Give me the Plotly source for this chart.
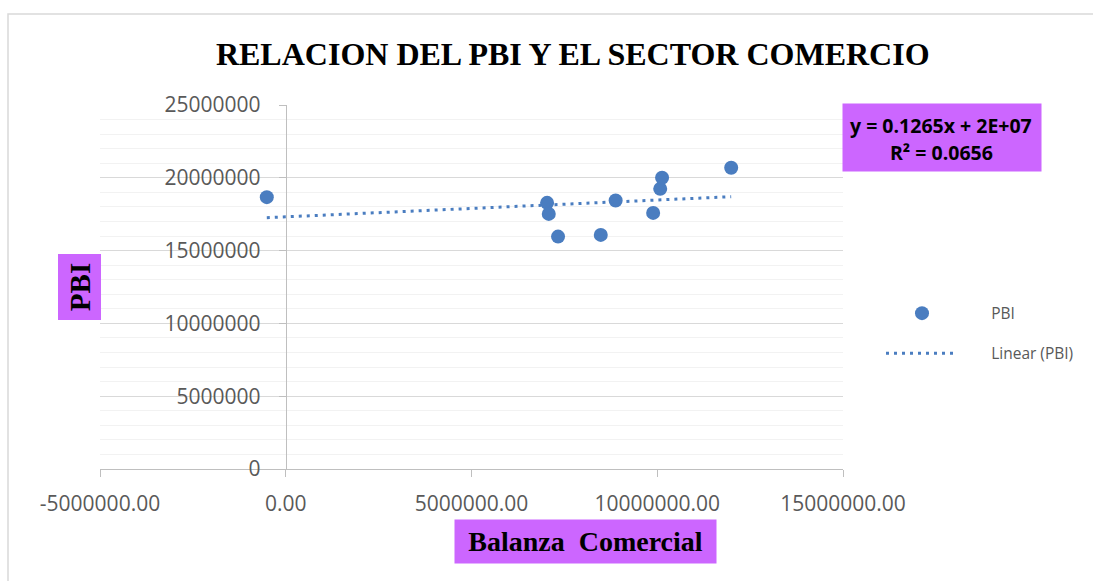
import numpy as np
import plotly.graph_objects as go

# ---- data ----
balanza = [-510000, 7035000, 7080000, 7330000, 8480000, 8880000, 9890000, 10080000, 10130000, 11990000]
pbi = [18670000, 18280000, 17520000, 15960000, 16080000, 18440000, 17590000, 19240000, 20000000, 20690000]

x_ticks = [-5000000, 0, 5000000, 10000000, 15000000]
x_tick_labels = ["-5000000.00", "0.00", "5000000.00", "10000000.00", "15000000.00"]
y_ticks = [0, 5000000, 10000000, 15000000, 20000000, 25000000]
y_tick_labels = ["0", "5000000", "10000000", "15000000", "20000000", "25000000"]

title_text = "RELACION DEL PBI Y EL SECTOR COMERCIO"
x_title = "Balanza  Comercial"
y_title = "PBI"
eq_line1 = "y = 0.1265x + 2E+07"
eq_line2 = "R² = 0.0656"
series_name = "PBI"
trend_name = "Linear (PBI)"

# ---- trendline computed from the data ----
slope, intercept = np.polyfit(balanza, pbi, 1)
trend_x = [min(balanza), max(balanza)]
trend_y = [slope * v + intercept for v in trend_x]

blue = "#4A7DC0"
grey_txt = "#595959"
purple = "#CC66FF"
tick_font = dict(family="Open Sans", size=21, color=grey_txt)
pad = "\u00a0" * 7

fig = go.Figure()
fig.add_trace(go.Scatter(
    x=balanza, y=pbi, mode="markers", name=pad + series_name, legendgroup="a",
    marker=dict(size=14, color=blue),
))
fig.add_trace(go.Scatter(
    x=trend_x, y=trend_y, mode="lines", name=pad + trend_name, legendgroup="b",
    line=dict(color=blue, width=3, dash="3px,5px"),
))

# plot area: left 100px, right 843px, top 105px, bottom 469px
fig.update_layout(
    width=1093, height=581,
    margin=dict(l=100, r=250, t=105, b=112, autoexpand=False),
    paper_bgcolor="white", plot_bgcolor="white",
    title=dict(text=title_text, x=0.524, xref="container", y=0.907, yref="container",
               xanchor="center", yanchor="middle",
               font=dict(family="Liberation Serif", size=32, color="black", weight="bold")),
    xaxis=dict(range=[-5000000, 15000000], tickvals=x_ticks, ticktext=x_tick_labels,
               showgrid=False, zeroline=False, showline=True, linecolor="#BFBFBF", linewidth=1,
               ticks="outside", ticklen=7, tickcolor="#BFBFBF", tickfont=tick_font,
               ticklabelstandoff=9),
    yaxis=dict(range=[0, 25000000], tickvals=y_ticks, ticktext=y_tick_labels,
               anchor="free", position=(0 - (-5000000)) / 20000000,
               showgrid=True, gridcolor="#D9D9D9", gridwidth=1, zeroline=False,
               showline=True, linecolor="#BFBFBF", linewidth=1,
               ticks="outside", ticklen=7, tickcolor="#BFBFBF", tickfont=tick_font,
               ticklabelstandoff=14,
               minor=dict(dtick=1000000, showgrid=True, gridcolor="#F2F2F2", gridwidth=1)),
    legend=dict(x=(881 - 100) / 743, xanchor="left", y=0.372, yanchor="middle",
                font=dict(family="Open Sans", size=15.5, color=grey_txt),
                tracegroupgap=17, itemwidth=72, bgcolor="rgba(0,0,0,0)"),
    showlegend=True,
)

# equation box (purple background) with its two lines of text
fig.add_annotation(
    text=" ", xref="paper", yref="paper", x=(942 - 100) / 743, y=(469 - 137.5) / 364,
    xanchor="center", yanchor="middle",
    showarrow=False, bgcolor=purple, width=198, height=67, borderpad=0,
)
eq_font = dict(family="Open Sans", size=19.5, color="black", weight="bold")
fig.add_annotation(
    text=eq_line1, xref="paper", yref="paper", x=(941 - 100) / 743, y=(469 - 125) / 364,
    xanchor="center", yanchor="middle", showarrow=False, font=eq_font,
)
fig.add_annotation(
    text=eq_line2, xref="paper", yref="paper", x=(942 - 100) / 743, y=(469 - 152) / 364,
    xanchor="center", yanchor="middle", showarrow=False, font=eq_font,
)
fig.add_annotation(
    text=x_title, xref="paper", yref="paper", x=(585.5 - 100) / 743, y=(469 - 541.5) / 364,
    xanchor="center", yanchor="middle",
    showarrow=False, bgcolor=purple, width=261, height=43, borderpad=0,
    font=dict(family="Liberation Serif", size=28, color="black", weight="bold"),
)
fig.add_annotation(
    text=y_title, xref="paper", yref="paper", x=(79 - 100) / 743, y=(469 - 287.5) / 364,
    xanchor="center", yanchor="middle",
    showarrow=False, bgcolor=purple, width=65, height=42, borderpad=0, textangle=-90,
    font=dict(family="Liberation Serif", size=29, color="black", weight="bold"),
)

# outer chart border
fig.add_shape(type="rect", xref="paper", yref="paper",
              x0=(8 - 100) / 743, x1=(1110 - 100) / 743,
              y0=(469 - 600) / 364, y1=(469 - 14) / 364,
              line=dict(color="#D9D9D9", width=1.5), fillcolor="rgba(0,0,0,0)", layer="below")

fig.write_html("out.html", config={"displayModeBar": False},
               post_script="document.body.style.margin='0';")
